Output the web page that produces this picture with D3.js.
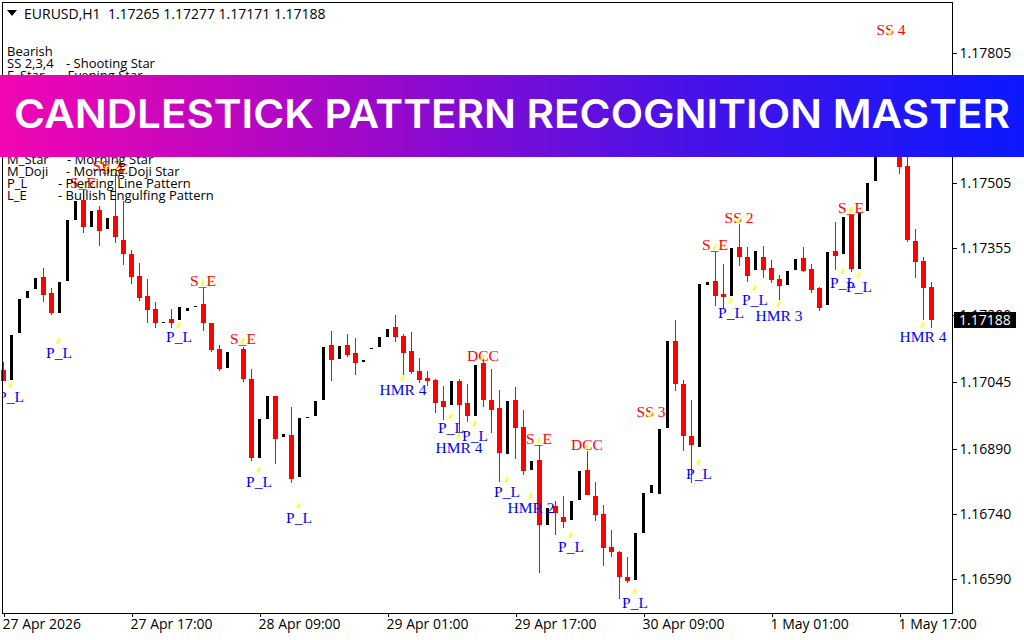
<!DOCTYPE html>
<html><head><meta charset="utf-8">
<script src="https://cdn.jsdelivr.net/npm/d3@7"></script>
<style>
html,body{margin:0;padding:0;background:#fff}
svg{display:block}
text{white-space:pre}
.axis path{display:none}
.axis text{font-family:"Open Sans",sans-serif;font-size:14px;fill:#000}
</style></head><body><div id="c"></div>
<script>
const opens=[1.17073,1.17050,1.17159,1.17240,1.17260,1.17288,1.17251,1.17205,1.17279,1.17420,
1.17466,1.17404,1.17443,1.17399,1.17429,1.17374,1.17341,1.17291,1.17244,1.17214,
1.17182,1.17191,1.17189,1.17210,1.17219,1.17226,1.17182,1.17122,1.17078,null,
1.17122,1.17053,1.16870,1.16960,1.17013,1.16919,1.16923,1.16826,1.16962,1.16967,
1.17004,1.17131,1.17099,1.17131,1.17113,1.17092,1.17122,1.17127,1.17150,1.17173,
1.17152,1.17117,1.17071,1.17055,1.17050,1.17002,1.16993,1.17048,1.16997,1.16967,
1.17090,1.17004,1.16986,1.16879,1.17004,1.16942,1.16842,1.16865,1.16715,1.16759,
1.16734,1.16727,1.16773,1.16842,1.16782,1.16741,1.16665,1.16653,1.16595,1.16588,
1.16697,1.16789,1.16787,1.16939,1.17140,1.17041,1.16921,1.16896,1.17270,1.17279,
1.17249,1.17244,1.17358,1.17334,1.17304,1.17334,1.17309,1.17284,1.17270,1.17304,
1.17332,1.17307,1.17263,1.17224,1.17348,1.17341,1.17431,1.17307,1.17441,1.17510,
1.17616,1.17709,1.17651,1.17545,1.17371,1.17325,1.17265];
const highs=[1.17092,1.17154,1.17237,1.17256,1.17286,1.17309,1.17263,1.17277,1.17420,1.17464,
1.17489,1.17441,1.17452,1.17425,1.17528,1.17464,1.17351,1.17321,1.17284,1.17230,
1.17184,1.17214,1.17219,1.17217,1.17221,1.17263,1.17182,1.17131,1.17115,null,
1.17127,1.17076,1.16960,1.17013,1.17013,1.16926,1.16988,1.16962,1.16965,1.17002,
1.17127,1.17163,1.17129,1.17157,1.17147,1.17097,1.17124,1.17150,1.17168,1.17200,
1.17157,1.17161,1.17101,1.17071,1.17053,1.17036,1.17048,1.17053,1.17041,1.17085,
1.17108,1.17076,1.17027,1.17002,1.17034,1.16981,1.16863,1.16900,1.16755,1.16771,
1.16782,1.16771,1.16840,1.16886,1.16815,1.16762,1.16704,1.16655,1.16641,1.16697,
1.16789,1.16808,1.16937,1.17140,1.17189,1.17050,1.17004,1.17272,1.17277,1.17346,
1.17318,1.17355,1.17411,1.17358,1.17348,1.17360,1.17328,1.17293,1.17302,1.17330,
1.17358,1.17318,1.17265,1.17346,1.17415,1.17427,1.17431,1.17436,1.17505,1.17616,
1.17709,1.17740,1.17674,1.17605,1.17399,1.17334,1.17277];
const lows=[1.17048,1.17050,1.17159,1.17240,1.17260,1.17231,1.17200,1.17205,1.17279,1.17420,
1.17390,1.17404,1.17360,1.17399,1.17367,1.17316,1.17272,1.17233,1.17182,1.17170,
1.17182,1.17170,1.17189,1.17210,1.17219,1.17163,1.17115,1.17071,1.17078,null,
1.17046,1.16863,1.16870,1.16960,1.16856,1.16919,1.16812,1.16826,1.16962,1.16967,
1.17004,1.17048,1.17099,1.17103,1.17062,1.17092,1.17122,1.17127,1.17150,1.17138,
1.17062,1.17064,1.17043,1.17036,1.16974,1.16958,1.16993,1.16923,1.16953,1.16967,
1.16988,1.16928,1.16815,1.16879,1.16868,1.16831,1.16842,1.16604,1.16715,1.16692,
1.16708,1.16727,1.16773,1.16785,1.16725,1.16621,1.16641,1.16544,1.16581,1.16588,
1.16697,1.16789,1.16787,1.16939,1.17025,1.16886,1.16812,1.16896,1.17270,1.17221,
1.17217,1.17244,1.17314,1.17277,1.17304,1.17286,1.17274,1.17235,1.17270,1.17304,
1.17300,1.17251,1.17210,1.17224,1.17304,1.17341,1.17300,1.17307,1.17441,1.17510,
1.17616,1.17628,1.17526,1.17369,1.17286,1.17189,1.17171];
const closes=[1.17048,1.17154,1.17237,1.17256,1.17286,1.17247,1.17205,1.17277,1.17420,1.17464,
1.17404,1.17441,1.17394,1.17425,1.17381,1.17341,1.17288,1.17240,1.17212,1.17182,
1.17184,1.17182,1.17219,1.17217,1.17221,1.17182,1.17120,1.17076,1.17115,null,
1.17053,1.16870,1.16960,1.17013,1.16914,1.16926,1.16822,1.16962,1.16965,1.17002,
1.17127,1.17097,1.17129,1.17108,1.17090,1.17097,1.17124,1.17150,1.17168,1.17150,
1.17113,1.17069,1.17050,1.17048,1.16997,1.16988,1.17048,1.16993,1.16967,1.17085,
1.17004,1.16981,1.16882,1.17002,1.16939,1.16840,1.16863,1.16715,1.16755,1.16743,
1.16722,1.16771,1.16840,1.16785,1.16738,1.16662,1.16653,1.16595,1.16586,1.16697,
1.16789,1.16808,1.16937,1.17140,1.17041,1.16921,1.16900,1.17272,1.17277,1.17244,
1.17242,1.17355,1.17334,1.17291,1.17348,1.17304,1.17281,1.17267,1.17302,1.17330,
1.17302,1.17258,1.17217,1.17346,1.17337,1.17427,1.17307,1.17436,1.17505,1.17616,
1.17709,1.17651,1.17542,1.17374,1.17323,1.17263,1.17188];

const labelTexts=["P_L","P_L","P_L","S_E","S_E","S_E","SS 2","S_E","P_L","P_L","HMR 4","DCC","P_L","HMR 4","P_L","P_L","HMR 2","S_E","P_L","DCC","SS 3","P_L","P_L","S_E","SS 2","P_L","P_L","HMR 3","P_L","P_L","S_E","HMR 4","SS 4"];
const labelBars=[1,7,22,25,30,10,13,14,32,37,50,60,56,57,59,63,66,67,71,73,81,87,79,89,92,91,94,97,105,107,106,115,111];
const labelPrices=[1.17011,1.17113,1.17150,1.17279,1.17145,1.17505,1.17545,1.17538,1.16815,1.16732,1.17027,1.17106,1.16939,1.16893,1.16921,1.16792,1.16755,1.16914,1.16664,1.16900,1.16976,1.16833,1.16535,1.17362,1.17424,1.17205,1.17235,1.17198,1.17274,1.17265,1.17448,1.17150,1.17859];
const bullishLabels=["P_L","HMR 2","HMR 3","HMR 4"];

const priceTicks=[1.17805,1.17655,1.17505,1.17355,1.17200,1.17045,1.16890,1.16740,1.16590];
const timeBars=[0,16,32,48,64,80,96,112];
const timeLabels=["27 Apr 2026","27 Apr 17:00","28 Apr 09:00","29 Apr 01:00","29 Apr 17:00","30 Apr 09:00","1 May 01:00","1 May 17:00"];
const headerText="EURUSD,H1  1.17265 1.17277 1.17171 1.17188";
const lastPrice=1.17188;
const legendKeys=["Bearish","SS 2,3,4","E_Star","M_Star","M_Doji","P_L","L_E"];
const legendDescs=["","- Shooting Star","- Evening Star","- Morning Star","- Morning Doji Star","- Piercing Line Pattern","- Bullish Engulfing Pattern"];
const bannerTitle="CANDLESTICK PATTERN RECOGNITION MASTER";

const W=1024,H=640;
const svg=d3.select("#c").append("svg").attr("width",W).attr("height",H).attr("viewBox",[0,0,W,H]);
const x=d3.scaleLinear().domain([0,116]).range([3.5,931.5]);
const y=d3.scaleLinear().domain([1.16590,1.17805]).range([579.3,53.3]);
const plot={l:2.5,t:2.5,r:952.5,b:613.5};

const defs=svg.append("defs");
defs.append("clipPath").attr("id","pc").append("rect").attr("x",plot.l+.5).attr("y",plot.t).attr("width",plot.r-plot.l-.5).attr("height",plot.b-plot.t);
const grad=defs.append("linearGradient").attr("id","bg");
[[0,"#f206b2"],[.33,"#a508c8"],[.66,"#4a12e6"],[1,"#0c18ff"]].forEach(s=>grad.append("stop").attr("offset",s[0]).attr("stop-color",s[1]));

const bars=d3.range(opens.length).filter(i=>opens[i]!==null).map(i=>({i,o:opens[i],h:highs[i],l:lows[i],c:closes[i]}));
const gc=svg.append("g").attr("shape-rendering","crispEdges");
const RED="#ff0000";
gc.selectAll(".w").data(bars.filter(d=>d.c<d.o)).join("rect")
  .attr("x",d=>x(d.i)-.5).attr("width",1)
  .attr("y",d=>Math.round(y(d.h))).attr("height",d=>Math.max(1,Math.round(y(d.l))-Math.round(y(d.h))))
  .attr("fill",RED);
gc.selectAll(".b").data(bars).join("rect")
  .attr("x",d=>x(d.i)-(d.c<d.o?2.5:1.5)).attr("width",d=>d.c<d.o?5:3)
  .attr("y",d=>Math.round(y(Math.max(d.o,d.c))))
  .attr("height",d=>Math.max(1,Math.round(y(Math.min(d.o,d.c)))-Math.round(y(Math.max(d.o,d.c)))))
  .attr("fill",d=>d.c<d.o?RED:"#000");

const gl=svg.append("g").attr("clip-path","url(#pc)");
const labels=labelTexts.map((t,k)=>({t,b:labelBars[k],p:labelPrices[k],bull:bullishLabels.includes(t)}));
gl.selectAll("text").data(labels).join("text")
  .attr("x",d=>x(d.b)-.5).attr("y",d=>y(d.p)+5)
  .attr("text-anchor","middle")
  .attr("font-family","'Liberation Serif',serif").attr("font-size",15.5)
  .attr("fill",d=>d.bull?"#0000ff":RED).text(d=>d.t);
gl.selectAll("ellipse").data(labels).join("ellipse")
  .attr("rx",1.5).attr("ry",3.2)
  .attr("transform",d=>`translate(${x(d.b)-1},${y(d.p)+(d.bull?-12:2)}) rotate(28)`)
  .attr("fill","#ffff33");

const lg=svg.append("g").attr("font-family","'Open Sans',sans-serif").attr("font-size",13).attr("fill","#000");
const legendY=[51,63,75,159,171,183,195];
const dashX=[0,66,60,67,66,58,58];
legendKeys.forEach((k,i)=>{
  lg.append("text").attr("x",7).attr("y",legendY[i]+4.5).text(k);
  if(legendDescs[i]) lg.append("text").attr("x",dashX[i]).attr("y",legendY[i]+4.5).text(legendDescs[i]);
});

svg.append("path").attr("d",d3.line()([[7,10],[17,10],[12,16]])+"Z").attr("fill","#000");
svg.append("text").attr("x",24).attr("y",19).attr("font-family","'Open Sans',sans-serif").attr("font-size",14).attr("fill","#000").text(headerText);

const fr=svg.append("g").attr("shape-rendering","crispEdges").attr("stroke","#000").attr("fill","none");
fr.append("rect").attr("x",plot.l).attr("y",plot.t).attr("width",plot.r-plot.l).attr("height",plot.b-plot.t);
const ay=svg.append("g").attr("class","axis").attr("transform",`translate(${plot.r},0)`)
  .call(d3.axisRight(y).tickValues(priceTicks).tickFormat(d3.format(".5f")).tickSize(4).tickPadding(3));
ay.selectAll("line").attr("shape-rendering","crispEdges");
const ax=svg.append("g").attr("class","axis").attr("transform",`translate(0,${plot.b})`)
  .call(d3.axisBottom(x).tickValues(timeBars).tickFormat((d,i)=>timeLabels[i]).tickSize(3).tickPadding(3));
ax.selectAll("line").attr("shape-rendering","crispEdges");
ax.selectAll("text").attr("text-anchor","start").attr("dx",-1.5);

const tag=svg.append("g").attr("transform",`translate(954,${y(lastPrice)})`);
tag.append("rect").attr("x",0).attr("y",-8).attr("width",62).attr("height",16).attr("fill","#000").attr("shape-rendering","crispEdges");
tag.append("text").attr("x",5).attr("y",5).attr("font-family","'Open Sans',sans-serif").attr("font-size",14).attr("fill","#fff").text(lastPrice.toFixed(5));

svg.append("rect").attr("x",0).attr("y",75).attr("width",W).attr("height",82).attr("fill","url(#bg)");
svg.append("text").attr("x",14).attr("y",128).attr("font-family","Inter,'Open Sans',sans-serif").attr("font-weight",600).attr("font-size",40)
  .attr("fill","#fff").attr("textLength",996).attr("lengthAdjust","spacingAndGlyphs").text(bannerTitle);
</script></body></html>
